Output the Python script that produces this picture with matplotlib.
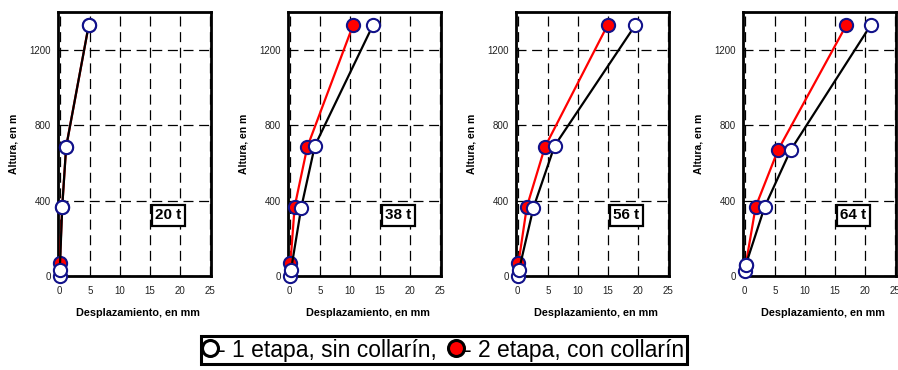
import matplotlib
matplotlib.use('Agg')
import matplotlib.pyplot as plt
from matplotlib.lines import Line2D

plt.rcParams['font.family'] = ['Liberation Sans', 'DejaVu Sans']

# loads (one panel each)
loads = ['20 t', '38 t', '56 t', '64 t']

# series 1: 1 etapa, sin collarin (open markers, black line)
x_sin = [
    [0.0, 0.0, 0.4, 1.05, 4.8],
    [0.1, 0.2, 1.9, 4.15, 13.8],
    [0.0, 0.2, 2.6, 6.1, 19.5],
    [0.0, 0.15, 3.3, 7.6, 20.9],
]
y_sin = [
    [0, 32, 367, 684, 1330],
    [0, 32, 363, 690, 1330],
    [0, 32, 363, 690, 1330],
    [28, 58, 367, 667, 1330],
]

# series 2: 2 etapa, con collarin (red markers, red line)
x_con = [
    [0.0, 0.4, 1.05, 4.8],
    [0.1, 0.8, 2.9, 10.5],
    [0.1, 1.5, 4.5, 14.9],
    [0.15, 1.8, 5.5, 16.85],
]
y_con = [
    [67, 367, 684, 1330],
    [67, 367, 684, 1330],
    [67, 367, 684, 1330],
    [58, 367, 667, 1330],
]

x_ticks = [0, 5, 10, 15, 20, 25]
y_ticks = [0, 400, 800, 1200]

W, H = 898, 370
fig = plt.figure(figsize=(W / 100, H / 100), dpi=100)

lefts = [58, 288, 516, 743]
edge = '#12128a'

for i in range(4):
    ax = fig.add_axes([lefts[i] / W, (H - 276) / H, 153 / W, 264 / H])
    ax.plot(x_con[i], y_con[i], color='red', lw=1.6, marker='o', ms=9.5,
            mfc='red', mec=edge, mew=1.5, clip_on=False, zorder=3)
    ax.plot(x_sin[i], y_sin[i], color='black', lw=1.6, marker='o', ms=9.5,
            mfc='white', mec=edge, mew=1.5, clip_on=False, zorder=4)
    ax.set_xlim(-0.3, 25.1)
    ax.set_ylim(0, 1400)
    ax.set_xticks(x_ticks)
    ax.set_yticks(y_ticks)
    ax.tick_params(length=0, labelsize=7, colors='#222222')
    ax.tick_params(axis='x', pad=7)
    ax.tick_params(axis='y', pad=5)
    ax.grid(True, color='black', linestyle=(0, (8, 4.5)), lw=0.9)
    for s in ax.spines.values():
        s.set_linewidth(2)
    ax.set_xlabel('Desplazamiento, en mm', fontsize=7.8, fontweight='bold')
    ax.xaxis.set_label_coords(0.52, -0.12)
    ax.set_ylabel('Altura, en m', fontsize=7.5, fontweight='bold')
    ax.yaxis.set_label_coords(-0.255, 0.5)
    ax.text(0.72, 0.23, loads[i], transform=ax.transAxes, fontsize=11,
            fontweight='bold', ha='center', va='center', zorder=6,
            bbox=dict(boxstyle='square,pad=0.22', fc='white', ec='black', lw=1.6))

handles = [
    Line2D([], [], ls='none', marker='o', ms=11.5, mfc='white', mec='black', mew=2.2),
    Line2D([], [], ls='none', marker='o', ms=11.5, mfc='red', mec='black', mew=2.2),
]
leg = fig.legend(handles, ['- 1 etapa, sin collarín,', '- 2 etapa, con collarín'],
                 loc='center', bbox_to_anchor=(0.494, 0.054), ncol=2,
                 fontsize=16.5, frameon=True, fancybox=False, framealpha=1,
                 handlelength=0.6, handletextpad=0.05, columnspacing=0.55,
                 borderpad=0.1, borderaxespad=0)
leg.get_frame().set_edgecolor('black')
leg.get_frame().set_linewidth(2.2)

fig.savefig('out.png', dpi=100)
